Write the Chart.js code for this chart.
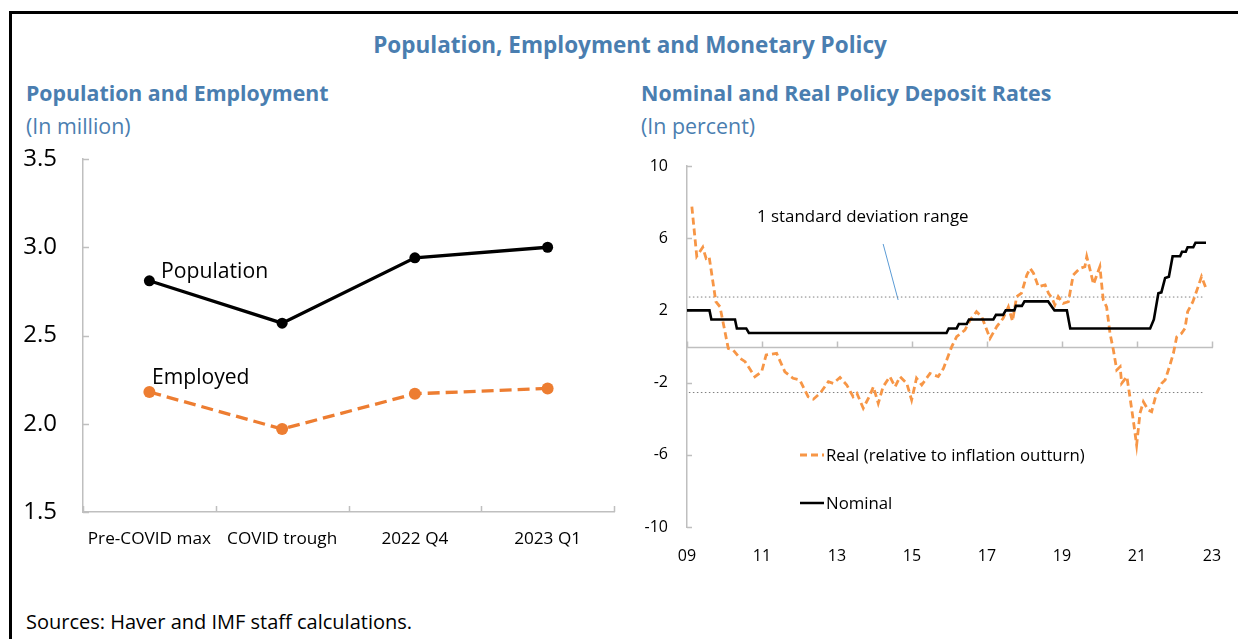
<!DOCTYPE html>
<html>
<head>
<meta charset="utf-8">
<script src="https://cdn.jsdelivr.net/npm/chart.js@4.4.0/dist/chart.umd.min.js"></script>
<style>
  html, body { margin: 0; padding: 0; background: #fff; }
  body { width: 1238px; height: 639px; position: relative; overflow: hidden; font-family: "Open Sans", "Noto Sans", sans-serif; }
  .frame { position: absolute; left: 9px; top: 11px; width: 1300px; height: 700px; border-left: 3px solid #000; border-top: 3px solid #000; }
  .t { position: absolute; white-space: nowrap; line-height: 24px; }
  .blue { color: #4A7EB0; }
  .bold { font-weight: 700; }
  canvas { position: absolute; }
</style>
</head>
<body>
<div class="frame"></div>
<div class="t blue bold" style="left:0;width:1260px;text-align:center;top:33px;font-size:22.5px;">Population, Employment and Monetary Policy</div>
<div class="t blue bold" style="left:26px;top:81px;font-size:21.3px;">Population and Employment</div>
<div class="t blue" style="left:26px;top:114px;font-size:21.4px;">(In million)</div>
<div class="t blue bold" style="left:641px;top:81px;font-size:21.4px;">Nominal and Real Policy Deposit Rates</div>
<div class="t blue" style="left:641px;top:114px;font-size:21.4px;">(In percent)</div>

<canvas id="left" width="600" height="420" style="left:20px;top:140px;"></canvas>
<canvas id="right" width="600" height="420" style="left:630px;top:150px;"></canvas>

<div class="t" style="left:161px;top:258px;font-size:21.2px;color:#000;">Population</div>
<div class="t" style="left:152px;top:364px;font-size:21.1px;color:#000;">Employed</div>

<div class="t" style="left:757px;top:204px;font-size:16.9px;color:#000;">1 standard deviation range</div>
<svg style="position:absolute;left:798px;top:448px;" width="28" height="14"><line x1="2" y1="7" x2="26" y2="7" stroke="#F79646" stroke-width="2.8" stroke-dasharray="7,4"/></svg>
<div class="t" style="left:826px;top:443px;font-size:16.8px;color:#000;">Real (relative to inflation outturn)</div>
<svg style="position:absolute;left:798px;top:496px;" width="28" height="14"><line x1="2" y1="7" x2="26" y2="7" stroke="#000" stroke-width="2.5"/></svg>
<div class="t" style="left:826px;top:491px;font-size:16.8px;color:#000;">Nominal</div>

<div class="t" style="left:26px;top:610px;font-size:20px;color:#000;">Sources: Haver and IMF staff calculations.</div>

<script>
// ---------- Left chart data ----------
const categories = ['Pre-COVID max', 'COVID trough', '2022 Q4', '2023 Q1'];
const population = [2.81, 2.57, 2.94, 3.00];
const employed = [2.18, 1.97, 2.17, 2.20];

// ---------- Right chart data ----------
const realYears = [2009.13, 2009.26, 2009.42, 2009.51, 2009.59, 2009.77, 2009.88, 2010.10, 2010.23, 2010.41,
  2010.55, 2010.81, 2010.99, 2011.11, 2011.39, 2011.61, 2011.83, 2012.01, 2012.23, 2012.37,
  2012.55, 2012.77, 2012.90, 2013.08, 2013.26, 2013.43, 2013.53, 2013.70, 2013.88, 2013.97,
  2014.10, 2014.23, 2014.41, 2014.55, 2014.68, 2014.86, 2014.99, 2015.12, 2015.26, 2015.48,
  2015.70, 2015.84, 2016.06, 2016.19, 2016.41, 2016.55, 2016.72, 2016.86, 2017.08, 2017.26,
  2017.43, 2017.57, 2017.68, 2017.79, 2017.92, 2018.06, 2018.15, 2018.24, 2018.37, 2018.55,
  2018.64, 2018.73, 2018.81, 2018.90, 2019.03, 2019.17, 2019.30, 2019.48, 2019.61, 2019.66,
  2019.75, 2019.84, 2020.01, 2020.10, 2020.19, 2020.28, 2020.37, 2020.46, 2020.55, 2020.59,
  2020.73, 2020.81, 2020.90, 2020.99, 2021.08, 2021.17, 2021.30, 2021.39, 2021.52, 2021.66,
  2021.75, 2021.88, 2021.97, 2022.06, 2022.19, 2022.28, 2022.35, 2022.49, 2022.63, 2022.72, 2022.84];
const realValues = [7.75, 5.0, 5.5, 4.88, 4.98, 2.48, 2.2, -0.1, -0.19, -0.65,
  -0.84, -1.67, -1.4, -0.47, -0.38, -1.4, -1.76, -1.86, -2.78, -2.92,
  -2.59, -1.95, -2.04, -1.72, -2.13, -2.78, -2.59, -3.42, -2.69, -2.23,
  -3.15, -2.23, -1.67, -2.23, -1.67, -2.04, -2.96, -1.76, -2.13, -1.49,
  -1.67, -1.21, -0.01, 0.54, 0.91, 1.47, 1.93, 1.65, 0.45, 1.1,
  1.56, 2.2, 1.4, 2.76, 2.95, 3.95, 4.33, 4.06, 3.31, 3.41,
  2.95, 2.7, 2.3, 2.76, 2.39, 2.48, 3.96, 4.33, 4.42, 4.98,
  4.24, 3.45, 4.42, 2.58, 2.2, 0.73, -0.19, -1.3, -1.12, -2.04,
  -1.67, -2.78, -4.07, -5.46, -3.7, -3.06, -3.52, -3.61, -2.59, -2.04,
  -1.86, -1.02, -0.38, 0.54, 0.73, 1.01, 1.93, 2.48, 3.31, 3.87, 3.22];

const nominalYears = [2009.0, 2009.6, 2009.65, 2010.28, 2010.33, 2010.58, 2010.65, 2015.92, 2015.98, 2016.19,
  2016.25, 2016.46, 2016.52, 2017.17, 2017.24, 2017.43, 2017.5, 2017.73, 2017.77, 2017.93,
  2018.0, 2018.63, 2018.8, 2019.13, 2019.22, 2021.35, 2021.45, 2021.57, 2021.65, 2021.75,
  2021.85, 2021.95, 2022.15, 2022.2, 2022.3, 2022.35, 2022.5, 2022.56, 2022.84];
const nominalValues = [2.0, 2.0, 1.5, 1.5, 1.0, 1.0, 0.75, 0.75, 1.0, 1.0,
  1.25, 1.25, 1.5, 1.5, 1.75, 1.75, 2.0, 2.0, 2.25, 2.25,
  2.5, 2.5, 2.0, 2.0, 1.0, 1.0, 1.5, 2.95, 3.0, 3.8,
  3.87, 5.0, 5.0, 5.25, 5.25, 5.5, 5.5, 5.75, 5.75];

const sdRangeYears = [2009.05, 2022.76];
const sdUpper = 2.74;
const sdLower = -2.55;
const xTickLabels = ['09', '11', '13', '15', '17', '19', '21', '23'];
const pointerFrom = [2014.23, 5.68];
const pointerTo = [2014.63, 2.58];

const AXIS_COLOR = '#BFBFBF';
const FONT = '"Open Sans", "Noto Sans", sans-serif';
Chart.defaults.font.family = FONT;
Chart.defaults.color = '#000';

function line(ctx, x1, y1, x2, y2) { ctx.beginPath(); ctx.moveTo(x1, y1); ctx.lineTo(x2, y2); ctx.stroke(); }
// Keep axis label overhang from pushing the plot area around.
const fixX = h => s => { s.height = h; s.paddingLeft = 0; s.paddingRight = 0; };
const fixY = w => s => { s.width = w; s.paddingTop = 0; s.paddingBottom = 0; };

// ---------- Left chart ----------
const leftTicks = {
  id: 'leftTicks',
  afterDraw(chart) {
    const ctx = chart.ctx, xs = chart.scales.x, ys = chart.scales.y;
    ctx.save();
    ctx.strokeStyle = AXIS_COLOR; ctx.lineWidth = 1.5;
    ys.ticks.forEach(t => { const p = Math.round(ys.getPixelForValue(t.value)) + 0.5; line(ctx, xs.left, p, xs.left + 6, p); });
    for (let i = 0; i <= categories.length; i++) {
      const p = Math.round(xs.getPixelForValue(i - 0.5)) + 0.5;
      line(ctx, p, ys.bottom, p, ys.bottom - 6);
    }
    ctx.restore();
  }
};

new Chart(document.getElementById('left'), {
  type: 'line',
  data: {
    labels: categories,
    datasets: [
      { data: population, borderColor: '#000', backgroundColor: '#000', borderWidth: 3.3, pointRadius: 5.5, pointHoverRadius: 5.5, pointBorderWidth: 0 },
      { data: employed, borderColor: '#ED7D31', backgroundColor: '#ED7D31', borderWidth: 3.3, borderDash: [12, 6], pointRadius: 6, pointHoverRadius: 6, pointBorderWidth: 0 }
    ]
  },
  options: {
    responsive: false, animation: false, devicePixelRatio: 1,
    layout: { padding: { top: 19, right: 6, left: 0, bottom: 0 } },
    plugins: { legend: { display: false }, tooltip: { enabled: false } },
    scales: {
      x: {
        offset: true,
        grid: { display: false, drawTicks: false },
        border: { display: true, color: AXIS_COLOR, width: 1.5 },
        ticks: { font: { size: 17.2 }, padding: 17, maxRotation: 0, autoSkip: false },
        afterFit: fixX(48)
      },
      y: {
        min: 1.5, max: 3.5,
        grid: { display: false, drawTicks: false },
        border: { display: true, color: AXIS_COLOR, width: 1.5 },
        ticks: { stepSize: 0.5, font: { size: 24 }, padding: 26, callback: v => Number(v).toFixed(1) },
        afterFit: fixY(63)
      }
    }
  },
  plugins: [leftTicks]
});

// ---------- Right chart ----------
const rightDeco = {
  id: 'rightDeco',
  beforeDatasetsDraw(chart) {
    const ctx = chart.ctx, xs = chart.scales.x, ys = chart.scales.y;
    const y0 = Math.round(ys.getPixelForValue(0)) + 0.5;
    ctx.save();
    ctx.strokeStyle = AXIS_COLOR; ctx.lineWidth = 1.5;
    line(ctx, xs.left, y0, xs.right + 1, y0);
    xs.ticks.forEach(t => { const p = Math.round(xs.getPixelForValue(t.value)) + 0.5; line(ctx, p, y0, p, y0 - 6); });
    ys.ticks.forEach(t => { const p = Math.round(ys.getPixelForValue(t.value)) + 0.5; line(ctx, xs.left, p, xs.left + 5, p); });
    ctx.strokeStyle = '#5B9BD5'; ctx.lineWidth = 1;
    line(ctx, xs.getPixelForValue(pointerFrom[0]), ys.getPixelForValue(pointerFrom[1]),
              xs.getPixelForValue(pointerTo[0]), ys.getPixelForValue(pointerTo[1]));
    ctx.restore();
  }
};

const toXY = (xsArr, ysArr) => xsArr.map((x, i) => ({ x, y: ysArr[i] }));

new Chart(document.getElementById('right'), {
  type: 'line',
  data: {
    datasets: [
      { data: toXY(nominalYears, nominalValues), borderColor: '#000', borderWidth: 2.6, pointRadius: 0, tension: 0 },
      { data: toXY(realYears, realValues), borderColor: '#F79646', borderWidth: 2.8, borderDash: [7, 4], pointRadius: 0, tension: 0 },
      { data: sdRangeYears.map(x => ({ x, y: sdUpper })), borderColor: '#7F7F7F', borderWidth: 1, borderDash: [1.5, 2.5], pointRadius: 0 },
      { data: sdRangeYears.map(x => ({ x, y: sdLower })), borderColor: '#7F7F7F', borderWidth: 1, borderDash: [1.5, 2.5], pointRadius: 0 }
    ]
  },
  options: {
    responsive: false, animation: false, devicePixelRatio: 1,
    layout: { padding: { top: 16, right: 18, left: 0, bottom: 0 } },
    plugins: { legend: { display: false }, tooltip: { enabled: false } },
    scales: {
      x: {
        type: 'linear', min: 2009, max: 2023,
        grid: { display: false, drawTicks: false },
        border: { display: false },
        ticks: { stepSize: 2, font: { size: 16 }, padding: 20, maxRotation: 0, autoSkip: false,
                 callback: (v, i) => xTickLabels[i] },
        afterFit: fixX(43)
      },
      y: {
        min: -10, max: 10,
        grid: { display: false, drawTicks: false },
        border: { display: true, color: AXIS_COLOR, width: 1.5 },
        ticks: { stepSize: 4, font: { size: 16 }, padding: 19 },
        afterFit: fixY(57)
      }
    }
  },
  plugins: [rightDeco]
});
</script>
</body>
</html>
